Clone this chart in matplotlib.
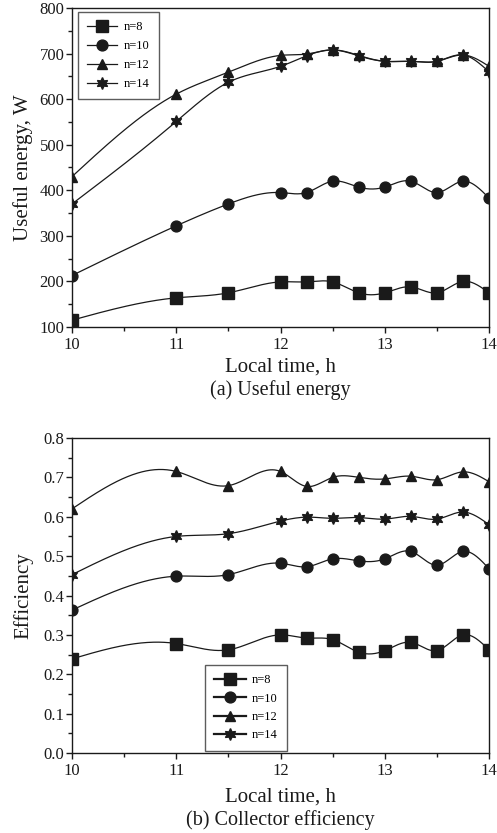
import numpy as np
import matplotlib
matplotlib.use("Agg")
import matplotlib.pyplot as plt
from matplotlib.ticker import MultipleLocator, FormatStrFormatter

plt.rcParams['font.family'] = ['Liberation Serif', 'DejaVu Serif']
plt.rcParams['mathtext.fontset'] = 'stix'

# ---------------- data ----------------
time_h = [10, 11, 11.5, 12, 12.25, 12.5, 12.75, 13, 13.25, 13.5, 13.75, 14]
series_labels = ["n=8", "n=10", "n=12", "n=14"]

energy_n8 = [115, 164, 175, 199, 199, 199, 175, 175, 188, 175, 200, 175]
energy_n10 = [213, 322, 370, 395, 395, 420, 407, 407, 420, 395, 420, 383]
energy_n12 = [430, 611, 659, 696, 699, 708, 696, 683, 683, 683, 697, 672]
energy_n14 = [370, 551, 637, 672, 695, 708, 695, 683, 683, 683, 697, 660]

eff_n8 = [0.239, 0.278, 0.262, 0.300, 0.292, 0.288, 0.256, 0.260, 0.281, 0.260, 0.300, 0.262]
eff_n10 = [0.363, 0.449, 0.453, 0.482, 0.473, 0.493, 0.488, 0.493, 0.512, 0.477, 0.512, 0.468]
eff_n12 = [0.620, 0.715, 0.679, 0.715, 0.677, 0.700, 0.700, 0.696, 0.703, 0.694, 0.714, 0.689]
eff_n14 = [0.453, 0.550, 0.557, 0.589, 0.599, 0.596, 0.598, 0.594, 0.601, 0.594, 0.612, 0.580]

markers = ['s', 'o', '^', (6, 1, 0)]
marker_sizes = [8, 7.8, 7.8, 8.5]


def natural_spline(x, y, npts=400):
    """Smooth curve through the data points (natural cubic spline)."""
    x = np.asarray(x, float)
    y = np.asarray(y, float)
    n = len(x)
    h = np.diff(x)
    A = np.zeros((n, n))
    r = np.zeros(n)
    A[0, 0] = 1
    A[-1, -1] = 1
    for i in range(1, n - 1):
        A[i, i - 1] = h[i - 1]
        A[i, i] = 2 * (h[i - 1] + h[i])
        A[i, i + 1] = h[i]
        r[i] = 6 * ((y[i + 1] - y[i]) / h[i] - (y[i] - y[i - 1]) / h[i - 1])
    M = np.linalg.solve(A, r)
    xs = np.linspace(x[0], x[-1], npts)
    idx = np.clip(np.searchsorted(x, xs) - 1, 0, n - 2)
    x0, x1 = x[idx], x[idx + 1]
    hh = x1 - x0
    a = (x1 - xs) / hh
    b = (xs - x0) / hh
    ys = (a * y[idx] + b * y[idx + 1]
          + ((a ** 3 - a) * M[idx] + (b ** 3 - b) * M[idx + 1]) * hh ** 2 / 6)
    return xs, ys


W, H = 497, 833
fig = plt.figure(figsize=(W / 100, H / 100), dpi=100)


def px_axes(left, top, right, bottom):
    return fig.add_axes([left / W, 1 - bottom / H, (right - left) / W, (bottom - top) / H])


ax1 = px_axes(72, 8, 489, 327)
ax2 = px_axes(72, 438, 489, 753)

col = '#1a1a1a'


def draw(ax, series, legend_lw):
    handles = []
    for vals, m, ms, lab in zip(series, markers, marker_sizes, series_labels):
        xs, ys = natural_spline(time_h, vals)
        ax.plot(xs, ys, color=col, lw=0.9, zorder=2)
        ax.plot(time_h, vals, linestyle='none', marker=m, ms=ms, color=col,
                mfc=col, mec=col, zorder=3)
        h, = ax.plot([], [], color=col, lw=legend_lw, marker=m, ms=ms, mfc=col, mec=col, label=lab)
        handles.append(h)
    return handles


def style(ax, ylim, major, minor, fmt):
    ax.set_xlim(10, 14)
    ax.set_ylim(*ylim)
    ax.xaxis.set_major_locator(MultipleLocator(1))
    ax.xaxis.set_minor_locator(MultipleLocator(0.5))
    ax.yaxis.set_major_locator(MultipleLocator(major))
    ax.yaxis.set_minor_locator(MultipleLocator(minor))
    ax.yaxis.set_major_formatter(FormatStrFormatter(fmt))
    ax.tick_params(which='both', direction='out', top=False, right=False,
                   labelsize=12, colors=col)
    ax.tick_params(which='major', length=4, width=1)
    ax.tick_params(which='minor', length=3, width=1)
    ax.tick_params(axis='y', pad=1.5)
    ax.tick_params(axis='x', pad=3.5)
    for s in ax.spines.values():
        s.set_linewidth(1.0)
        s.set_color(col)


h1 = draw(ax1, [energy_n8, energy_n10, energy_n12, energy_n14], 0.9)
style(ax1, (100, 800), 100, 50, '%d')
ax1.set_xlabel('Local time, h', fontsize=15, color=col)
ax1.set_ylabel('Useful energy, W', fontsize=15, color=col)
ax1.xaxis.set_label_coords(0.5, -0.097)
ax1.yaxis.set_label_coords(-0.0935, 0.5)
leg1 = ax1.legend(handles=h1, loc='upper left', bbox_to_anchor=(78 / W, 1 - 12 / H),
                  bbox_transform=fig.transFigure, fontsize=9, frameon=True, fancybox=False,
                  handlelength=2.4, handletextpad=0.5, borderpad=0.75, labelspacing=0.55,
                  borderaxespad=0, markerscale=1.0)
leg1.get_frame().set_edgecolor('#333333')
leg1.get_frame().set_linewidth(1.0)

h2 = draw(ax2, [eff_n8, eff_n10, eff_n12, eff_n14], 1.6)
style(ax2, (0.0, 0.8), 0.1, 0.05, '%.1f')
ax2.set_xlabel('Local time, h', fontsize=15, color=col)
ax2.set_ylabel('Efficiency', fontsize=15, color=col)
ax2.xaxis.set_label_coords(0.5, -0.111)
ax2.yaxis.set_label_coords(-0.0935, 0.5)
leg2 = ax2.legend(handles=h2, loc='upper left', bbox_to_anchor=(205 / W, 1 - 665 / H),
                  bbox_transform=fig.transFigure, fontsize=9, frameon=True, fancybox=False,
                  handlelength=2.5, handletextpad=0.5, borderpad=0.75, labelspacing=0.5,
                  borderaxespad=0)
leg2.get_frame().set_edgecolor('#333333')
leg2.get_frame().set_linewidth(1.0)

fig.text(280.5 / W, 1 - 390 / H, '(a) Useful energy', ha='center', va='center',
         fontsize=14.5, color=col)
fig.text(280.5 / W, 1 - 820 / H, '(b) Collector efficiency', ha='center', va='center',
         fontsize=14.5, color=col)

fig.savefig('out.png', dpi=100)
